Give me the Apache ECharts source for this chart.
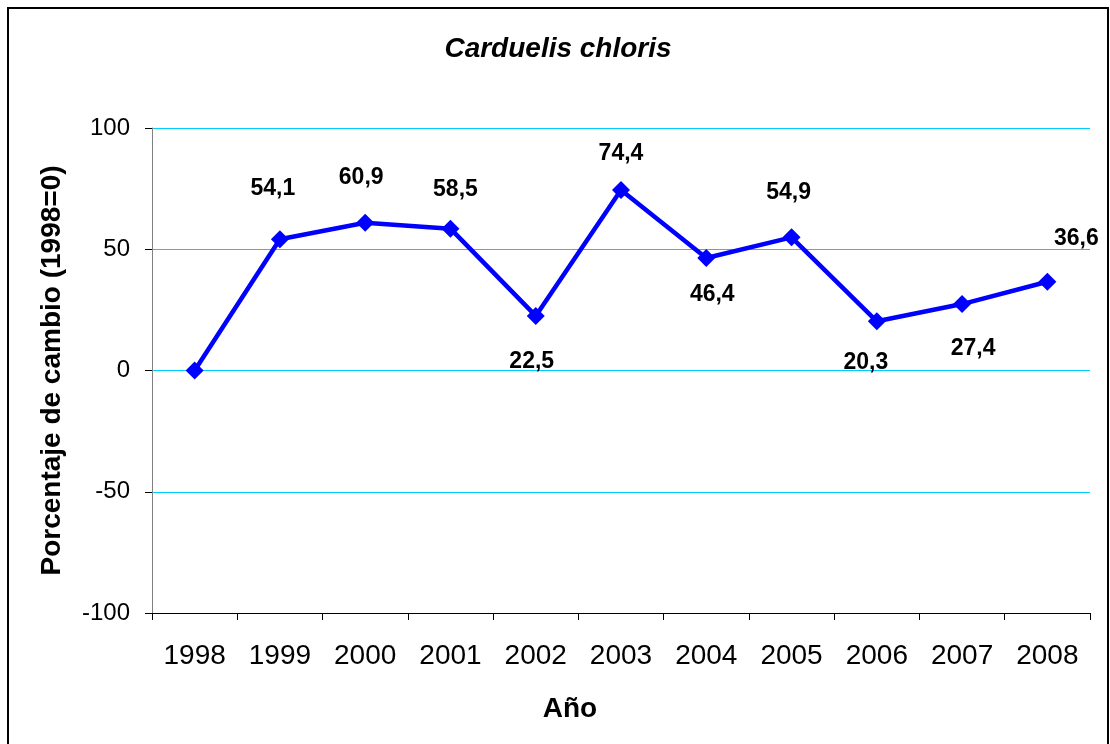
<!DOCTYPE html>
<html>
<head>
<meta charset="utf-8">
<title>Carduelis chloris</title>
<script src="https://cdn.jsdelivr.net/npm/echarts@6/dist/echarts.min.js"></script>
<style>
    html, body { margin: 0; padding: 0; background: #fff; }
    #main { width: 1110px; height: 744px; }
</style>
</head>
<body>
<div id="main"></div>
<script>
// datos
var years = ['1998', '1999', '2000', '2001', '2002', '2003', '2004', '2005', '2006', '2007', '2008'];
var cambio = [0, 54.1, 60.9, 58.5, 22.5, 74.4, 46.4, 54.9, 20.3, 27.4, 36.6];
var yTicks = [-100, -50, 0, 50, 100];

// donde va cada etiqueta respecto al punto (null = sin etiqueta)
var labelOffsets = [null, [-7, -51], [-4, -45], [5, -39], [-4, 46], [0, -36], [6, 37], [-3, -45], [-11, 41], [11, 45], [29, -43]];

var font = 'Liberation Sans, Arial, sans-serif';

var seriesData = cambio.map(function (v, i) {
    var off = labelOffsets[i];
    if (!off) {
        return { value: v, label: { show: false } };
    }
    return {
        value: v,
        label: { show: true, position: 'inside', offset: off }
    };
});

var myChart = echarts.init(document.getElementById('main'));
var option = {
    backgroundColor: '#ffffff',
    animation: false,
    title: {
        text: 'Carduelis chloris',
        left: 553,
        top: 30,
        textAlign: 'center',
        textStyle: {
            fontFamily: font,
            fontStyle: 'italic',
            fontWeight: 'bold',
            fontSize: 28,
            color: '#000'
        }
    },
    graphic: [{
        type: 'rect',
        shape: { x: 8, y: 8, width: 1100, height: 760 },
        style: { fill: 'none', stroke: '#000', lineWidth: 2 },
        silent: true,
        z: -1
    }],
    grid: {
        left: 152,
        top: 128,
        right: 20,
        bottom: 131,
        containLabel: false
    },
    xAxis: {
        type: 'category',
        data: years,
        boundaryGap: true,
        name: 'Año',
        nameLocation: 'middle',
        nameGap: 82,
        nameTextStyle: {
            fontFamily: font,
            fontWeight: 'bold',
            fontSize: 28,
            color: '#000',
            padding: [0, 102, 0, 0]
        },
        axisLine: { onZero: false, lineStyle: { color: '#000', width: 1 } },
        axisTick: { show: true, length: 7, lineStyle: { color: '#000' } },
        axisLabel: {
            fontFamily: font,
            fontSize: 28,
            color: '#000',
            margin: 29,
            interval: 0
        },
        splitLine: { show: false }
    },
    yAxis: {
        type: 'value',
        min: yTicks[0],
        max: yTicks[yTicks.length - 1],
        interval: 50,
        name: 'Porcentaje de cambio (1998=0)',
        nameLocation: 'middle',
        nameGap: 86,
        nameTextStyle: {
            fontFamily: font,
            fontWeight: 'bold',
            fontSize: 28,
            color: '#000'
        },
        axisLine: { show: true, lineStyle: { color: '#808080', width: 1 } },
        axisTick: { show: true, length: 7, lineStyle: { color: '#000' } },
        axisLabel: {
            fontFamily: font,
            fontSize: 24,
            color: '#000',
            margin: 22
        },
        splitLine: { show: true, lineStyle: { color: '#00ccff', width: 1 } }
    },
    series: [{
        name: 'Carduelis chloris',
        type: 'line',
        data: seriesData,
        symbol: 'diamond',
        symbolSize: 18,
        lineStyle: { color: '#0000ff', width: 4.5 },
        itemStyle: { color: '#0000ff' },
        label: {
            fontFamily: font,
            fontWeight: 'bold',
            fontSize: 23,
            color: '#000',
            formatter: function (p) {
                return String(p.value).replace('.', ',');
            }
        },
        z: 3
    }]
};
myChart.setOption(option);
</script>
</body>
</html>
